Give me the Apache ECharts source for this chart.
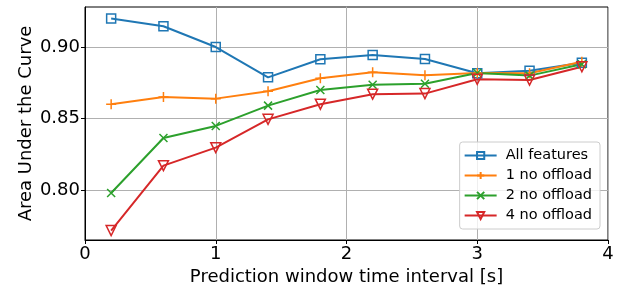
<!DOCTYPE html>
<html>
<head>
<meta charset="utf-8">
<script src="https://cdn.jsdelivr.net/npm/echarts@6/dist/echarts.min.js"></script>
<style>
  html, body { margin: 0; padding: 0; background: #fff; }
  #chart { width: 623px; height: 286px; }
</style>
</head>
<body>
<div id="chart"></div>
<script>
// x positions of each measurement (seconds)
const xValues = [0.2, 0.6, 1.0, 1.4, 1.8, 2.2, 2.6, 3.0, 3.4, 3.8];
const allFeatures = [0.920, 0.9145, 0.900, 0.8788, 0.8914, 0.8944, 0.8916, 0.8816, 0.8834, 0.889];
const noOffload1 = [0.860, 0.865, 0.8639, 0.869, 0.8781, 0.8823, 0.8802, 0.8818, 0.8816, 0.8897];
const noOffload2 = [0.7979, 0.8364, 0.8448, 0.859, 0.8699, 0.8736, 0.8743, 0.8818, 0.880, 0.8879];
const noOffload4 = [0.7716, 0.817, 0.8296, 0.8494, 0.860, 0.867, 0.8674, 0.8774, 0.8769, 0.8862];
const xTicks = [0, 1, 2, 3, 4];
const yTicks = [0.80, 0.85, 0.90];

const FONT = "DejaVu Sans";
const plusPath = "path://M5,0L5,10M0,5L10,5";
const crossPath = "path://M0,0L10,10M0,10L10,0";

function pairs(ys) {
  return xValues.map((x, i) => [x, ys[i]]);
}

function mkSeries(name, ys, color, symbol, size, rotate) {
  return {
    name: name,
    type: "line",
    data: pairs(ys),
    symbol: symbol,
    symbolSize: size,
    symbolRotate: rotate || 0,
    showAllSymbol: true,
    lineStyle: { color: color, width: 2 },
    itemStyle: { color: "none", borderColor: color, borderWidth: 1.5 },
    emphasis: { disabled: true },
    animation: false,
  };
}

let chart = echarts.init(document.getElementById("chart"));
chart.setOption({
  backgroundColor: "#fff",
  animation: false,
  textStyle: { fontFamily: FONT },
  grid: {
    left: 85, right: 15, top: 7, bottom: 46,
    outerBoundsMode: "none",
    containLabel: false,
    show: true, borderColor: "#000", borderWidth: 1,
  },
  legend: {
    orient: "vertical",
    right: 23,
    top: 142,
    itemWidth: 32,
    itemHeight: 9,
    itemGap: 5,
    padding: [6, 8, 6, 4],
    backgroundColor: "rgba(255,255,255,0.8)",
    borderColor: "#ccc",
    borderWidth: 1,
    borderRadius: 3,
    textStyle: { fontFamily: FONT, fontSize: 14.5, color: "#000", padding: [0, 0, 0, 4] },
    data: ["All features", "1 no offload", "2 no offload", "4 no offload"],
  },
  xAxis: {
    type: "value",
    min: 0,
    max: 4,
    interval: 1,
    name: "Prediction window time interval [s]",
    nameLocation: "middle",
    nameGap: 27,
    nameTextStyle: { fontFamily: FONT, fontSize: 18, color: "#000" },
    axisLine: { show: true, onZero: false, lineStyle: { color: "#000" } },
    axisTick: { show: true, length: 4, lineStyle: { color: "#000" } },
    axisLabel: { fontFamily: FONT, fontSize: 18, color: "#000", margin: 5,
      formatter: v => xTicks.includes(v) ? String(v) : "" },
    splitLine: { show: true, lineStyle: { color: "#b0b0b0", width: 1 } },
  },
  yAxis: {
    type: "value",
    min: 0.765,
    max: 0.928,
    name: "Area Under the Curve",
    nameLocation: "middle",
    nameGap: 50,
    nameMoveOverlap: false,
    nameTextStyle: { fontFamily: FONT, fontSize: 18, color: "#000" },
    axisLine: { show: true, onZero: false, lineStyle: { color: "#000" } },
    axisTick: { show: true, length: 4, lineStyle: { color: "#000" }, customValues: yTicks },
    axisLabel: { fontFamily: FONT, fontSize: 18, color: "#000", margin: 5,
      customValues: yTicks, formatter: v => v.toFixed(2) },
    splitLine: { show: true, lineStyle: { color: "#b0b0b0", width: 1 } },
  },
  series: [
    mkSeries("All features", allFeatures, "#1f77b4", "rect", 9),
    mkSeries("1 no offload", noOffload1, "#ff7f0e", plusPath, 10),
    mkSeries("2 no offload", noOffload2, "#2ca02c", crossPath, 8),
    mkSeries("4 no offload", noOffload4, "#d62728", "triangle", 10, 180),
  ],
});
</script>
</body>
</html>
